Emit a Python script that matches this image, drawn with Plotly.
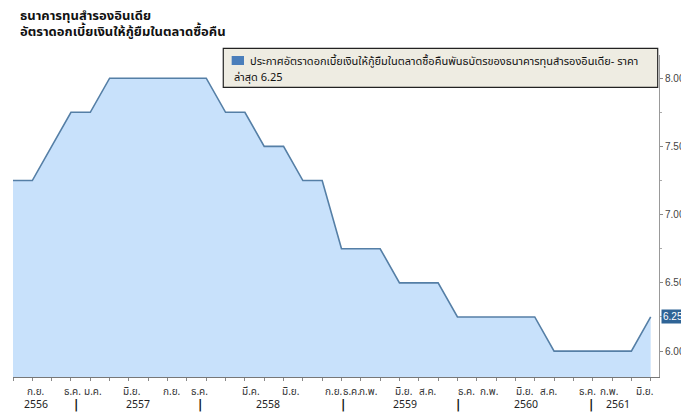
import plotly.graph_objects as go

# ---- data ----
release_dates = [
    "2013-06-17", "2013-07-30", "2013-09-20", "2013-10-29", "2013-12-18",
    "2014-01-28", "2014-04-01", "2014-06-03", "2014-08-05", "2014-09-30",
    "2014-12-02", "2015-01-15", "2015-02-03", "2015-03-04", "2015-04-07",
    "2015-06-02", "2015-08-04", "2015-09-29", "2015-12-01", "2016-02-02",
    "2016-04-05", "2016-06-07", "2016-08-09", "2016-10-04", "2016-12-07",
    "2017-02-08", "2017-04-06", "2017-06-07", "2017-08-02", "2017-10-04",
    "2017-12-06", "2018-02-07", "2018-04-05", "2018-06-06",
]
repo_rate = [
    7.25, 7.25, 7.50, 7.75, 7.75,
    8.00, 8.00, 8.00, 8.00, 8.00,
    8.00, 7.75, 7.75, 7.50, 7.50,
    7.25, 7.25, 6.75, 6.75, 6.75,
    6.50, 6.50, 6.50, 6.25, 6.25,
    6.25, 6.25, 6.25, 6.00, 6.00,
    6.00, 6.00, 6.00, 6.25,
]
month_labels = ["ก.ย.", "ธ.ค.", "ม.ค.", "มิ.ย.", "ก.ย.", "ธ.ค.", "มี.ค.", "มิ.ย.", "ก.ย.",
                "ธ.ค.", "ก.พ.", "มิ.ย.", "ส.ค.", "ธ.ค.", "ก.พ.", "มิ.ย.", "ส.ค.", "ธ.ค.",
                "ก.พ.", "มิ.ย."]
year_labels = ["2556", "|", "2557", "|", "2558", "|", "2559", "|", "2560", "|", "2561"]
y_tick_vals = [6.0, 6.5, 7.0, 7.5, 8.0]
y_tick_text = ["6.00", "6.50", "7.00", "7.50", "8.00"]
title_lines = ["ธนาคารทุนสำรองอินเดีย", "อัตราดอกเบี้ยเงินให้กู้ยืมในตลาดซื้อคืน"]
legend_line1 = "ประกาศอัตราดอกเบี้ยเงินให้กู้ยืมในตลาดซื้อคืนพันธบัตรของธนาคารทุนสำรองอินเดีย- ราคา"
legend_line2 = "ล่าสุด 6.25"
last_value = repo_rate[-1]

# ---- layout positions (category index units) ----
month_pos = [1.18, 3.06, 4.14, 6.14, 8.21, 9.65, 12.33, 14.34, 16.58, 17.52, 18.35,
             20.20, 21.47, 23.46, 24.62, 26.49, 27.73, 29.72, 30.84, 32.70]
year_pos = [1.17, 3.26, 6.49, 9.68, 13.22, 17.06, 20.29, 23.05, 26.54, 29.90, 31.29]

THAI = "Tahoma, 'Noto Sans Thai', 'Loma', 'Garuda', 'DejaVu Sans', sans-serif"
NARROW = "'Liberation Sans Narrow', 'Arial Narrow', sans-serif"

fig = go.Figure()
fig.add_trace(go.Scatter(
    x=list(range(len(release_dates))), y=repo_rate,
    mode="lines", fill="tozeroy",
    fillcolor="#C8E1FB",
    line=dict(color="#557FA6", width=1.6),
    hovertext=release_dates, showlegend=False,
))

annotations = []
for t, p in zip(month_labels, month_pos):
    annotations.append(dict(x=p, y=-0.048, xref="x", yref="paper", text=t, showarrow=False,
                            xanchor="center", yanchor="middle",
                            font=dict(family=THAI, size=10, color="#333333")))
for t, p in zip(year_labels, year_pos):
    is_sep = (t == "|")
    annotations.append(dict(x=p, y=-0.088, xref="x", yref="paper",
                            text="<b>|</b>" if is_sep else t, showarrow=False,
                            xanchor="center", yanchor="middle",
                            font=dict(family="'DejaVu Sans', sans-serif" if is_sep else THAI,
                                      size=12 if is_sep else 10.5,
                                      color="#111111" if is_sep else "#222222")))
# title
annotations.append(dict(x=0.0077, y=1.120, xref="paper", yref="paper", text="<b>" + title_lines[0] + "</b>",
                        showarrow=False, xanchor="left", yanchor="middle",
                        font=dict(family=THAI, size=13, color="#111111")))
annotations.append(dict(x=0.0077, y=1.0700, xref="paper", yref="paper", text="<b>" + title_lines[1] + "</b>",
                        showarrow=False, xanchor="left", yanchor="middle",
                        font=dict(family=THAI, size=13, color="#111111")))
# legend text
annotations.append(dict(x=0.3642, y=0.9792, xref="paper", yref="paper", text=legend_line1,
                        showarrow=False, xanchor="left", yanchor="middle",
                        font=dict(family=THAI, size=11, color="#111111")))
annotations.append(dict(x=0.3385, y=0.9307, xref="paper", yref="paper", text=legend_line2,
                        showarrow=False, xanchor="left", yanchor="middle",
                        font=dict(family=THAI, size=11, color="#111111")))
# last value tag
annotations.append(dict(x=1.003, y=last_value, xref="paper", yref="y", text=f"{last_value:.2f}",
                        showarrow=False, xanchor="left", yanchor="middle",
                        bgcolor="#2F6496", borderpad=1,
                        font=dict(family=NARROW, size=10, color="white")))

shapes = [
    dict(type="rect", xref="paper", yref="paper", x0=0.3255, x1=0.998, y0=0.8997, y1=1.0208,
         fillcolor="#EEECE2", line=dict(color="#222222", width=1.2), layer="above"),
    dict(type="rect", xref="paper", yref="paper", x0=0.3385, x1=0.3576, y0=0.9689, y1=0.9969,
         fillcolor="#4A7EBB", line=dict(width=0), layer="above"),
]

# page body has an 8px default margin; the figure is sized to fill the rest
fig.update_layout(
    width=681, height=408,
    margin=dict(l=5, r=30, t=47, b=39, autoexpand=False),
    paper_bgcolor="white", plot_bgcolor="white",
    annotations=annotations, shapes=shapes,
    xaxis=dict(range=[0, 33.43], showgrid=False, zeroline=False, automargin=False,
               tickmode="array", tickvals=list(range(len(release_dates))),
               ticktext=[""] * len(release_dates), ticks="outside", ticklen=3,
               tickcolor="#888888", showline=True, linecolor="#777777", linewidth=1),
    yaxis=dict(range=[5.81, 8.17], side="right", showgrid=False, zeroline=False, automargin=False,
               tickmode="array", tickvals=y_tick_vals, ticktext=y_tick_text,
               ticks="outside", ticklen=3, tickcolor="#888888",
               minor=dict(tickmode="array", tickvals=[6.25, 6.75, 7.25, 7.75], ticks="outside",
                          ticklen=2, tickcolor="#aaaaaa"),
               showline=True, linecolor="#999999", linewidth=1,
               tickfont=dict(family=NARROW, size=10, color="#444444")),
)

fig.write_html("out.html")
